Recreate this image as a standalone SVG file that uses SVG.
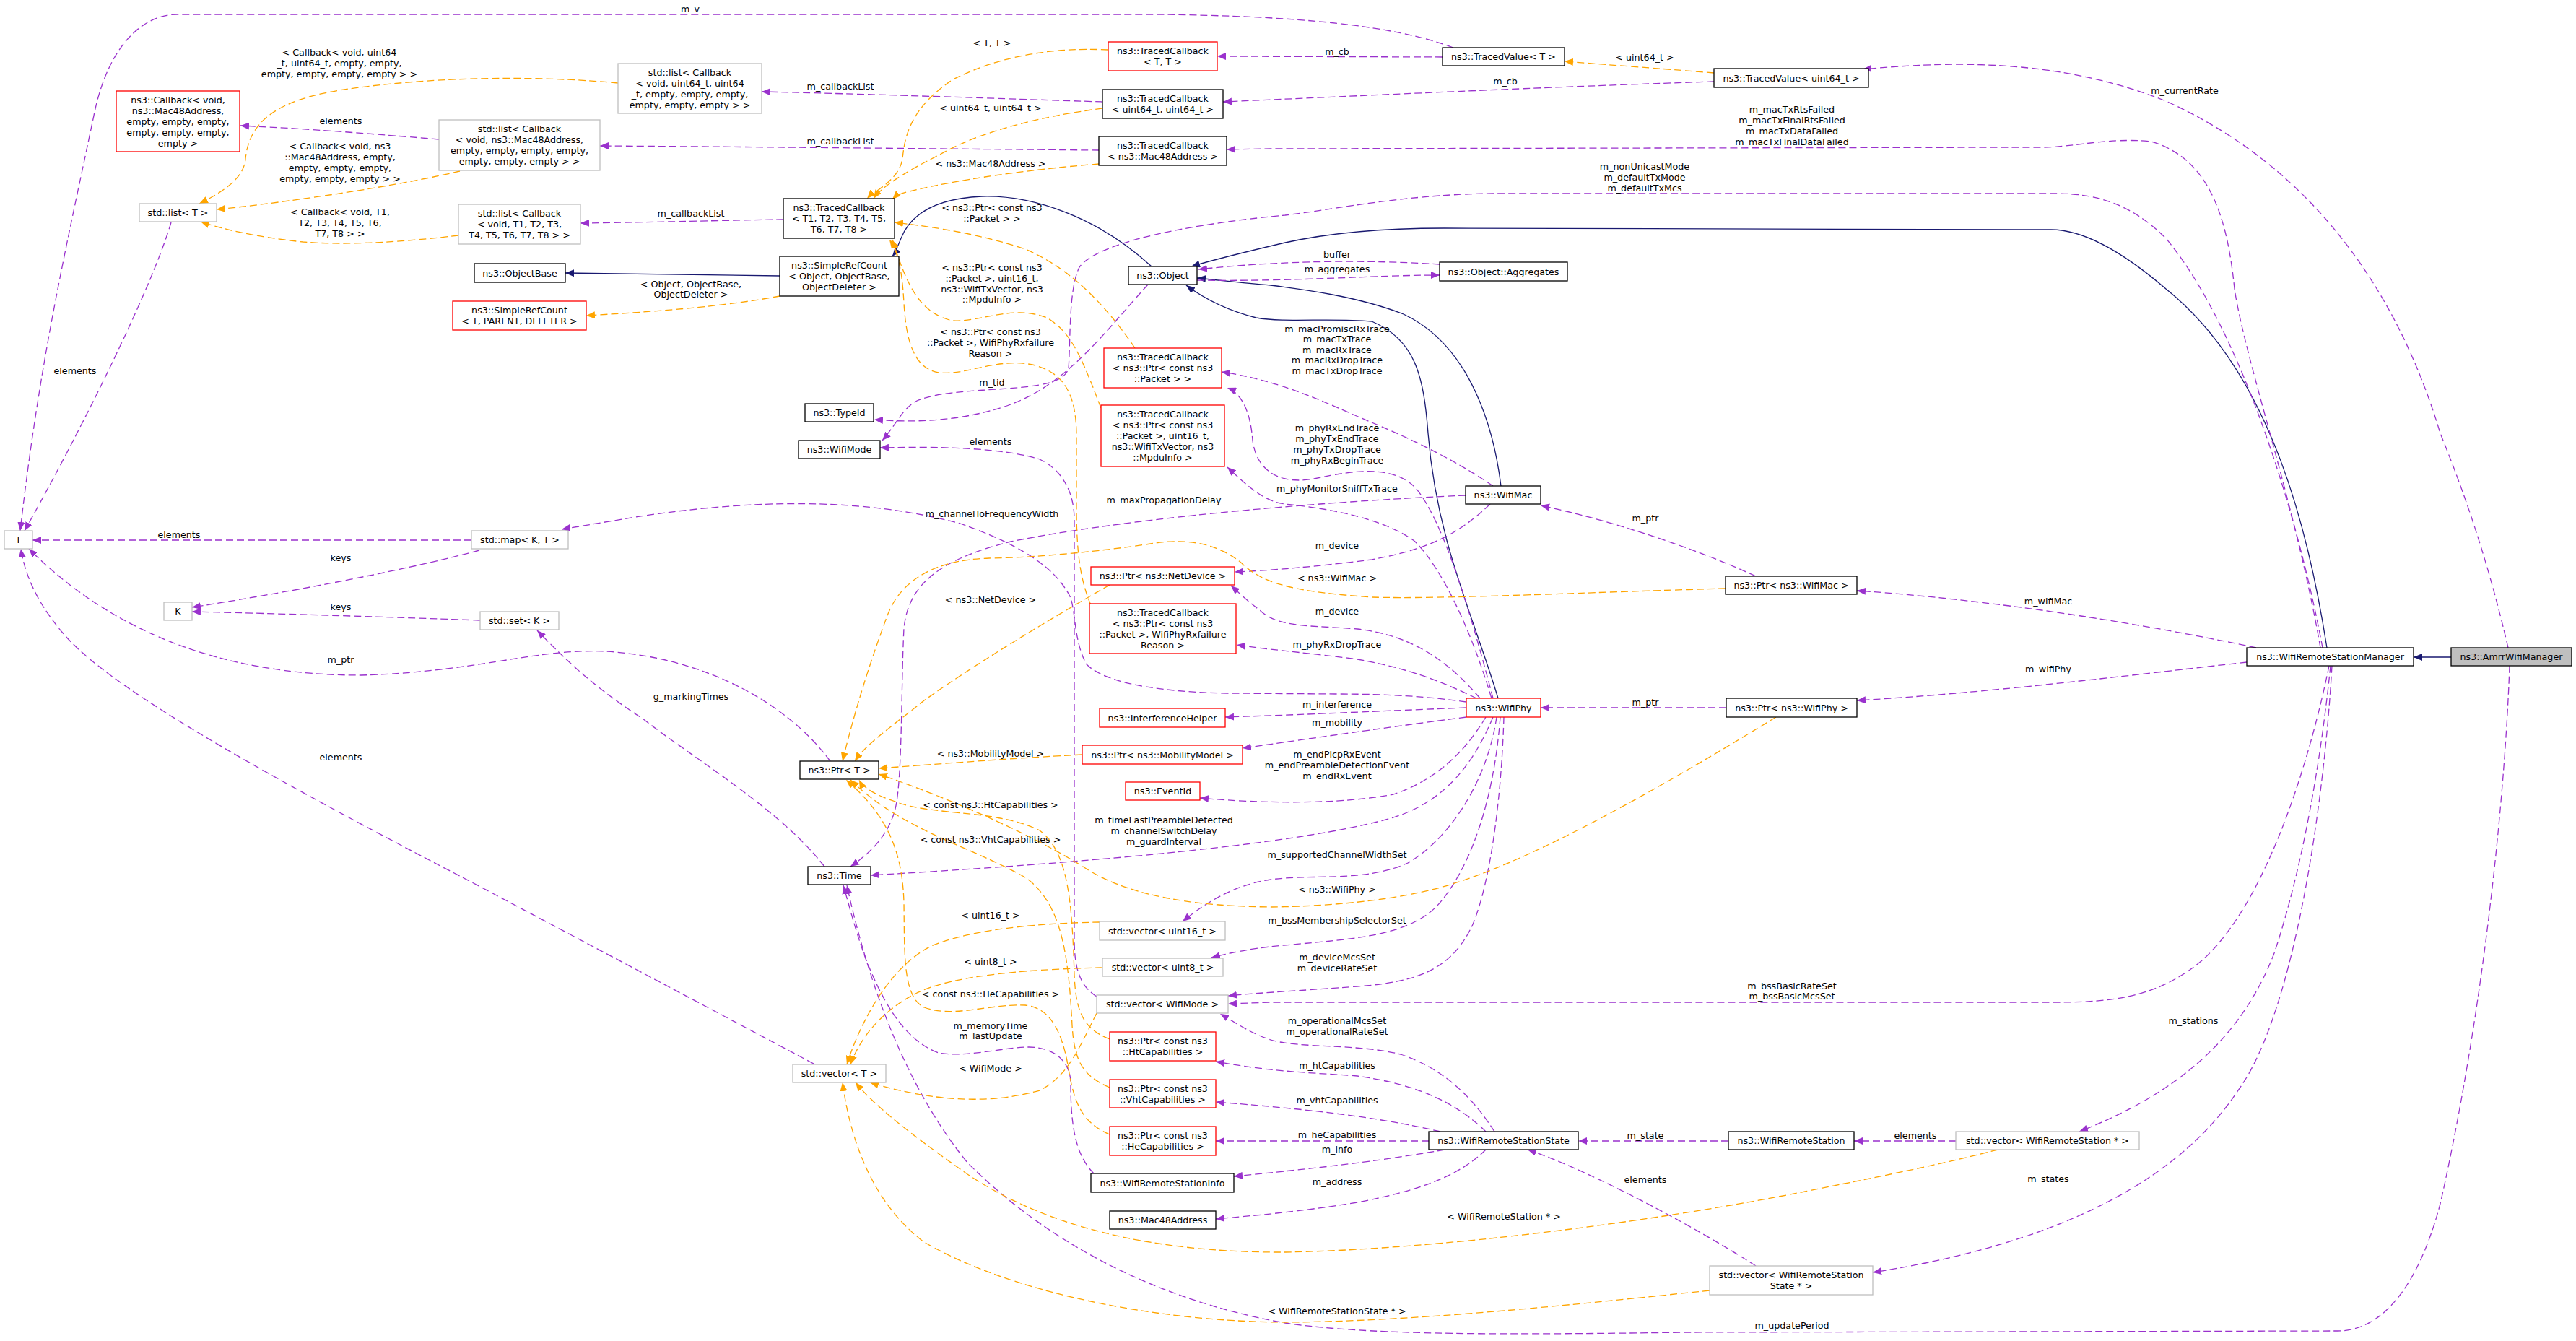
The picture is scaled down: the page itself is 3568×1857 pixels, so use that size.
<svg xmlns="http://www.w3.org/2000/svg" width="3568" height="1857" viewBox="0 0 3568 1857">
<style>
rect{stroke-width:1.3}
.nb{fill:#fff;stroke:#000}
.ng{fill:#fff;stroke:#bfbfbf}
.nr{fill:#fff;stroke:#ff0000}
.nm{fill:#bfbfbf;stroke:#000}
text{font-family:'DejaVu Sans',sans-serif;font-size:12.7px;text-anchor:middle;fill:#000}
.p{fill:none;stroke:#9a32cd;stroke-width:1.3;stroke-dasharray:10,5;marker-end:url(#ap)}
.o{fill:none;stroke:#ffa500;stroke-width:1.3;stroke-dasharray:10,5;marker-end:url(#ao)}
.b{fill:none;stroke:#191970;stroke-width:1.3;marker-end:url(#ab)}
</style>
<defs>
<marker id="ap" viewBox="0 0 12 10" refX="12" refY="5" markerWidth="12" markerHeight="10" markerUnits="userSpaceOnUse" orient="auto"><path d="M0,0L12,5L0,10z" fill="#9a32cd"/></marker>
<marker id="ao" viewBox="0 0 12 10" refX="12" refY="5" markerWidth="12" markerHeight="10" markerUnits="userSpaceOnUse" orient="auto"><path d="M0,0L12,5L0,10z" fill="#ffa500"/></marker>
<marker id="ab" viewBox="0 0 12 10" refX="12" refY="5" markerWidth="12" markerHeight="10" markerUnits="userSpaceOnUse" orient="auto"><path d="M0,0L12,5L0,10z" fill="#191970"/></marker>
</defs>
<rect width="3568" height="1857" fill="#fff" style="stroke:none"/>
<g id="connectors">
<path class="b" d="M3395,910L3343,910"/>
<path class="b" d="M3223,897C3200,750 3150,520 3000,400C2930,340 2880,318 2841,318L2000,316C1900,316 1830,325 1780,336C1720,350 1680,360 1650,369"/>
<path class="b" d="M2079,673C2070,600 2040,480 1944,435C1880,410 1800,400 1760,395C1720,392 1690,388 1658,385"/>
<path class="b" d="M2075,967C2040,850 1990,750 1978,600C1972,520 1960,470 1900,445C1840,440 1780,447 1740,440C1700,430 1670,415 1643,395"/>
<path class="b" d="M1595,369C1520,300 1430,270 1360,272C1290,275 1260,300 1248,330C1242,345 1240,350 1236,355"/>
<path class="b" d="M1080,382L783,378"/>
<path class="p" d="M2013,66C1930,35 1800,22 1600,20L245,20C200,20 150,60 130,160C90,350 55,500 28,735"/>
<text x="956" y="16.5">m_v</text>
<path class="p" d="M2374,113C2150,120 1900,132 1694,141"/>
<text x="2085" y="116.5">m_cb</text>
<path class="p" d="M1998,79L1686,78"/>
<text x="1852" y="75.5">m_cb</text>
<path class="p" d="M1527,141C1400,137 1200,130 1055,127"/>
<text x="1164" y="123.5">m_callbackList</text>
<path class="p" d="M1522,208C1300,206 1000,203 831,202"/>
<text x="1164" y="199.5">m_callbackList</text>
<path class="p" d="M1085,304C1000,305 900,308 804,309"/>
<text x="957" y="299.5">m_callbackList</text>
<path class="p" d="M608,193C500,184 420,178 333,174"/>
<text x="472" y="171.5">elements</text>
<path class="p" d="M237,308C210,400 110,600 34,735"/>
<text x="104" y="517.5">elements</text>
<path class="p" d="M653,748L45,748"/>
<text x="248" y="744.5">elements</text>
<path class="p" d="M664,762C560,790 400,820 266,841"/>
<text x="472" y="776.5">keys</text>
<path class="p" d="M665,859C550,855 400,850 266,847"/>
<text x="472" y="844.5">keys</text>
<path class="p" d="M1150,1054C1080,960 960,915 870,905C760,890 680,930 500,935C300,935 150,870 40,760"/>
<text x="472" y="917.5">m_ptr</text>
<path class="p" d="M1127,1473L654,1222C400,1090 160,960 90,880C55,840 35,800 29,760"/>
<text x="472" y="1052.5">elements</text>
<path class="p" d="M1142,1200C1080,1120 960,1050 890,995C820,950 780,910 744,873"/>
<text x="957" y="968.5">g_markingTimes</text>
<path class="p" d="M1658,388C1800,390 1900,381 1994,381"/>
<text x="1852" y="376.5">m_aggregates</text>
<path class="p" d="M1994,366C1900,360 1780,360 1660,373"/>
<text x="1852" y="356.5">buffer</text>
<path class="p" d="M1590,394C1530,460 1480,530 1400,560C1330,585 1260,585 1211,581"/>
<text x="1374" y="533.5">m_tid</text>
<path class="p" d="M3217,897C3180,700 3100,450 3000,330C2950,280 2900,268 2847,268L2076,268C1950,268 1850,290 1780,298C1650,310 1520,335 1495,370C1480,400 1483,470 1480,510C1470,550 1330,530 1270,555C1250,565 1240,590 1222,610"/>
<text x="2278" y="234.5">m_nonUnicastMode</text>
<text x="2278" y="249.5">m_defaultTxMode</text>
<text x="2278" y="264.5">m_defaultTxMcs</text>
<path class="p" d="M3214,897C3180,700 3110,500 3095,400C3085,300 3060,220 2980,196C2920,190 2870,204 2830,204L1760,206L1699,207"/>
<text x="2482" y="155.5">m_macTxRtsFailed</text>
<text x="2482" y="170.5">m_macTxFinalRtsFailed</text>
<text x="2482" y="185.5">m_macTxDataFailed</text>
<text x="2482" y="200.5">m_macTxFinalDataFailed</text>
<path class="p" d="M3474,897C3440,750 3400,650 3380,600C3320,400 3200,230 3000,140C2850,80 2700,85 2580,96"/>
<text x="3026" y="129.5">m_currentRate</text>
<path class="p" d="M2068,673C2020,640 1960,610 1900,585C1840,560 1780,528 1692,515"/>
<text x="1852" y="459.5">m_macPromiscRxTrace</text>
<text x="1852" y="474">m_macTxTrace</text>
<text x="1852" y="488.5">m_macRxTrace</text>
<text x="1852" y="503">m_macRxDropTrace</text>
<text x="1852" y="517.5">m_macTxDropTrace</text>
<path class="p" d="M2068,967C2040,860 2000,720 1960,675C1930,645 1880,650 1820,663C1770,672 1740,650 1735,610C1732,570 1720,545 1700,537"/>
<text x="1852" y="596.5">m_phyRxEndTrace</text>
<text x="1852" y="611.5">m_phyTxEndTrace</text>
<text x="1852" y="626.5">m_phyTxDropTrace</text>
<text x="1852" y="641.5">m_phyRxBeginTrace</text>
<path class="p" d="M2066,967C2040,880 2000,790 1960,750C1920,720 1850,705 1780,698C1750,695 1725,670 1700,647"/>
<text x="1852" y="680.5">m_phyMonitorSniffTxTrace</text>
<path class="p" d="M2030,686C1800,696 1550,720 1400,750C1300,775 1258,810 1252,870C1248,950 1250,1080 1240,1120C1230,1160 1200,1185 1178,1200"/>
<text x="1612" y="696.5">m_maxPropagationDelay</text>
<path class="p" d="M2064,698C2020,740 1980,760 1900,775C1820,785 1760,790 1710,792"/>
<text x="1852" y="759.5">m_device</text>
<path class="p" d="M2050,967C2010,920 1960,880 1880,871C1820,866 1770,870 1745,845C1725,830 1715,820 1705,811"/>
<text x="1852" y="850.5">m_device</text>
<path class="p" d="M2045,967C2000,945 1950,925 1880,913C1820,905 1760,900 1713,893"/>
<text x="1852" y="896.5">m_phyRxDropTrace</text>
<path class="p" d="M2031,972C1980,965 1930,961 1850,961L1700,960C1600,958 1530,945 1505,920C1488,890 1490,850 1483,828C1460,780 1400,750 1330,725C1200,690 1050,690 880,716L778,733"/>
<text x="1374" y="715.5">m_channelToFrequencyWidth</text>
<path class="p" d="M2031,980C1900,985 1800,990 1697,993"/>
<text x="1852" y="979.5">m_interference</text>
<path class="p" d="M2031,993C1900,1010 1800,1025 1721,1036"/>
<text x="1852" y="1004.5">m_mobility</text>
<path class="p" d="M2058,993C2030,1040 1990,1080 1930,1100C1850,1115 1740,1112 1662,1105"/>
<text x="1852" y="1048.5">m_endPlcpRxEvent</text>
<text x="1852" y="1063.5">m_endPreambleDetectionEvent</text>
<text x="1852" y="1079">m_endRxEvent</text>
<path class="p" d="M2068,993C2040,1060 2000,1110 1930,1132C1800,1170 1500,1195 1206,1212"/>
<text x="1612" y="1139.5">m_timeLastPreambleDetected</text>
<text x="1612" y="1154.5">m_channelSwitchDelay</text>
<text x="1612" y="1169.5">m_guardInterval</text>
<path class="p" d="M2073,993C2060,1080 2010,1160 1950,1195C1890,1222 1820,1210 1760,1218C1710,1225 1670,1250 1638,1276"/>
<text x="1852" y="1187.5">m_supportedChannelWidthSet</text>
<path class="p" d="M2078,993C2070,1100 2040,1200 1990,1255C1950,1295 1880,1300 1790,1308C1740,1312 1710,1318 1678,1326"/>
<text x="1852" y="1278.5">m_bssMembershipSelectorSet</text>
<path class="p" d="M2083,993C2080,1100 2065,1220 2040,1280C2010,1345 1960,1360 1880,1366C1800,1372 1740,1375 1701,1379"/>
<text x="1852" y="1329.5">m_deviceMcsSet</text>
<text x="1852" y="1344.5">m_deviceRateSet</text>
<path class="p" d="M3226,922C3200,1050 3140,1250 3050,1330C2990,1380 2930,1388 2847,1388L1760,1388L1701,1390"/>
<text x="2482" y="1369.5">m_bssBasicRateSet</text>
<text x="2482" y="1383.5">m_bssBasicMcsSet</text>
<path class="p" d="M2070,1567C2040,1520 2000,1480 1940,1460C1880,1445 1800,1452 1760,1440C1730,1430 1710,1415 1690,1404"/>
<text x="1852" y="1417.5">m_operationalMcsSet</text>
<text x="1852" y="1432.5">m_operationalRateSet</text>
<path class="p" d="M2058,1567C2010,1520 1950,1500 1880,1490C1810,1485 1760,1484 1684,1470"/>
<text x="1852" y="1479.5">m_htCapabilities</text>
<path class="p" d="M1995,1567C1900,1545 1800,1535 1684,1526"/>
<text x="1852" y="1527.5">m_vhtCapabilities</text>
<path class="p" d="M1979,1580L1684,1580"/>
<text x="1852" y="1575.5">m_heCapabilities</text>
<path class="p" d="M2001,1592C1900,1610 1800,1620 1709,1629"/>
<text x="1852" y="1595.5">m_info</text>
<path class="p" d="M2058,1592C2020,1630 1960,1650 1880,1665C1800,1678 1740,1683 1684,1688"/>
<text x="1852" y="1640.5">m_address</text>
<path class="p" d="M2394,1580L2186,1580"/>
<text x="2279" y="1576.5">m_state</text>
<path class="p" d="M2709,1580L2568,1580"/>
<text x="2653" y="1576.5">elements</text>
<path class="p" d="M2432,1753C2350,1700 2200,1620 2116,1592"/>
<text x="2279" y="1637.5">elements</text>
<path class="p" d="M3228,922C3215,1050 3190,1200 3150,1320C3100,1450 3000,1520 2880,1567"/>
<text x="3038" y="1417.5">m_stations</text>
<path class="p" d="M3230,922C3220,1100 3180,1400 3100,1510C3000,1660 2800,1730 2594,1762"/>
<text x="2837" y="1636.5">m_states</text>
<path class="p" d="M3476,922C3470,1100 3440,1400 3380,1667C3350,1780 3300,1843 3238,1843L2340,1845C2100,1848 1900,1850 1780,1832C1600,1800 1450,1720 1340,1610C1250,1500 1200,1350 1173,1226"/>
<text x="2482" y="1839.5">m_updatePeriod</text>
<path class="p" d="M1515,1625C1490,1600 1483,1560 1483,1500C1483,1470 1460,1450 1425,1450C1390,1450 1340,1465 1300,1458C1250,1440 1220,1380 1200,1330C1185,1290 1178,1260 1168,1226"/>
<text x="1372" y="1424.5">m_memoryTime</text>
<text x="1372" y="1438.5">m_lastUpdate</text>
<path class="p" d="M1519,1380C1495,1365 1488,1340 1488,1300L1488,720C1488,680 1470,650 1440,636C1390,620 1300,618 1219,620"/>
<text x="1372" y="615.5">elements</text>
<path class="p" d="M3125,897C2950,860 2750,830 2572,818"/>
<text x="2837" y="836.5">m_wifiMac</text>
<path class="p" d="M3112,917C2950,935 2750,960 2572,970"/>
<text x="2837" y="930.5">m_wifiPhy</text>
<path class="p" d="M2432,798C2350,760 2230,720 2134,700"/>
<text x="2279" y="721.5">m_ptr</text>
<path class="p" d="M2391,980L2134,980"/>
<text x="2279" y="976.5">m_ptr</text>
<path class="o" d="M2374,101C2300,95 2230,90 2167,85"/>
<text x="2278" y="83.5">&lt; uint64_t &gt;</text>
<path class="o" d="M1535,69C1450,65 1380,80 1320,110C1260,150 1253,190 1250,220C1245,250 1210,265 1201,275"/>
<text x="1374" y="63.5">&lt; T, T &gt;</text>
<path class="o" d="M1527,150C1450,160 1360,180 1300,215C1250,240 1220,260 1210,275"/>
<text x="1372" y="153.5">&lt; uint64_t, uint64_t &gt;</text>
<path class="o" d="M1522,227C1420,235 1320,250 1260,265C1245,268 1240,272 1236,276"/>
<text x="1372" y="230.5">&lt; ns3::Mac48Address &gt;</text>
<path class="o" d="M1572,482C1530,420 1480,370 1420,345C1360,325 1300,315 1239,308"/>
<text x="1374" y="291.5">&lt; ns3::Ptr&lt; const ns3</text>
<text x="1374" y="306.5">::Packet &gt; &gt;</text>
<path class="o" d="M1525,565C1500,500 1485,460 1450,440C1400,420 1350,450 1315,443C1270,430 1255,390 1236,332"/>
<text x="1374" y="374.5">&lt; ns3::Ptr&lt; const ns3</text>
<text x="1374" y="389.5">::Packet &gt;, uint16_t,</text>
<text x="1374" y="404.5">ns3::WifiTxVector, ns3</text>
<text x="1374" y="418.5">::MpduInfo &gt;</text>
<path class="o" d="M1511,838C1495,800 1491,760 1491,700L1491,600C1490,540 1470,515 1430,505C1380,495 1340,520 1300,516C1265,510 1255,470 1252,420C1250,380 1245,350 1232,332"/>
<text x="1372" y="463.5">&lt; ns3::Ptr&lt; const ns3</text>
<text x="1372" y="478.5">::Packet &gt;, WifiPhyRxfailure</text>
<text x="1372" y="493.5">Reason &gt;</text>
<path class="o" d="M1080,410C1000,425 900,432 812,437"/>
<text x="957" y="397.5">&lt; Object, ObjectBase,</text>
<text x="957" y="411.5">ObjectDeleter &gt;</text>
<path class="o" d="M1537,810C1450,860 1350,920 1280,970C1230,1010 1200,1030 1184,1054"/>
<text x="1372" y="834.5">&lt; ns3::NetDevice &gt;</text>
<path class="o" d="M2390,815C2200,820 2000,830 1900,827C1800,820 1750,810 1720,780C1690,755 1650,745 1600,752C1550,760 1450,772 1370,773C1300,775 1250,800 1230,850C1200,930 1180,1000 1167,1054"/>
<text x="1852" y="804.5">&lt; ns3::WifiMac &gt;</text>
<path class="o" d="M1499,1045C1400,1050 1300,1058 1217,1064"/>
<text x="1372" y="1047.5">&lt; ns3::MobilityModel &gt;</text>
<path class="o" d="M2460,993C2350,1060 2150,1180 2018,1222C1950,1245 1850,1255 1760,1256C1650,1255 1560,1240 1500,1200C1420,1150 1300,1100 1217,1072"/>
<text x="1852" y="1235.5">&lt; ns3::WifiPhy &gt;</text>
<path class="o" d="M1537,1439C1500,1425 1490,1400 1488,1350C1485,1250 1480,1180 1440,1150C1380,1120 1290,1130 1240,1110C1210,1100 1195,1090 1190,1080"/>
<text x="1372" y="1118.5">&lt; const ns3::HtCapabilities &gt;</text>
<path class="o" d="M1537,1506C1500,1490 1488,1470 1485,1420C1480,1320 1470,1250 1420,1215C1340,1170 1250,1150 1178,1080"/>
<text x="1372" y="1166.5">&lt; const ns3::VhtCapabilities &gt;</text>
<path class="o" d="M1537,1571C1500,1555 1488,1530 1480,1480C1470,1420 1450,1395 1420,1392C1370,1390 1320,1410 1280,1395C1250,1380 1253,1320 1252,1250C1250,1180 1230,1130 1172,1080"/>
<text x="1372" y="1380.5">&lt; const ns3::HeCapabilities &gt;</text>
<path class="o" d="M1523,1277C1450,1278 1350,1285 1290,1310C1230,1340 1190,1420 1173,1474"/>
<text x="1372" y="1271.5">&lt; uint16_t &gt;</text>
<path class="o" d="M1527,1340C1430,1342 1320,1350 1270,1375C1220,1400 1190,1440 1178,1474"/>
<text x="1372" y="1335.5">&lt; uint8_t &gt;</text>
<path class="o" d="M1519,1403C1495,1450 1480,1490 1440,1510C1370,1530 1290,1525 1205,1499"/>
<text x="1372" y="1483.5">&lt; WifiMode &gt;</text>
<path class="o" d="M2767,1592C2700,1610 2600,1630 2500,1650C2300,1690 2000,1730 1780,1734C1600,1735 1450,1700 1340,1626C1260,1570 1210,1530 1185,1499"/>
<text x="2083" y="1688.5">&lt; WifiRemoteStation * &gt;</text>
<path class="o" d="M2368,1787C2150,1810 1950,1830 1780,1831C1600,1830 1400,1790 1280,1720C1200,1660 1175,1560 1167,1499"/>
<text x="1852" y="1819.5">&lt; WifiRemoteStationState * &gt;</text>
<path class="o" d="M856,115C750,105 600,105 470,125C380,140 345,170 340,220C338,250 300,270 276,282"/>
<text x="470" y="76.5">&lt; Callback&lt; void, uint64</text>
<text x="470" y="91.5">_t, uint64_t, empty, empty,</text>
<text x="470" y="107">empty, empty, empty, empty &gt; &gt;</text>
<path class="o" d="M637,237C560,255 460,270 400,278C350,285 320,288 300,290"/>
<text x="471" y="206.5">&lt; Callback&lt; void, ns3</text>
<text x="471" y="221.5">::Mac48Address, empty,</text>
<text x="471" y="236.5">empty, empty, empty,</text>
<text x="471" y="251.5">empty, empty, empty &gt; &gt;</text>
<path class="o" d="M635,326C560,335 480,340 420,335C350,328 300,315 278,307"/>
<text x="471" y="297.5">&lt; Callback&lt; void, T1,</text>
<text x="471" y="312.5">T2, T3, T4, T5, T6,</text>
<text x="471" y="327.5">T7, T8 &gt; &gt;</text>
</g>
<g id="n_amrr"><rect class="nm" x="3395" y="897" width="167" height="25"/><text x="3478.5" y="914">ns3::AmrrWifiManager</text></g>
<g id="n_wrsm"><rect class="nb" x="3112" y="897" width="231" height="25"/><text x="3227.5" y="914">ns3::WifiRemoteStationManager</text></g>
<g id="n_object"><rect class="nb" x="1563" y="369" width="95" height="25"/><text x="1610.5" y="386">ns3::Object</text></g>
<g id="n_srcObj"><rect class="nb" x="1080" y="355" width="165" height="55"/><text x="1162.5" y="372">ns3::SimpleRefCount</text><text x="1162.5" y="387">&lt; Object, ObjectBase,</text><text x="1162.5" y="402">ObjectDeleter &gt;</text></g>
<g id="n_objbase"><rect class="nb" x="657" y="365" width="126" height="26"/><text x="720" y="382.5">ns3::ObjectBase</text></g>
<g id="n_srcT"><rect class="nr" x="627" y="417" width="185" height="40"/><text x="719.5" y="434">ns3::SimpleRefCount</text><text x="719.5" y="449">&lt; T, PARENT, DELETER &gt;</text></g>
<g id="n_tcT"><rect class="nb" x="1085" y="275" width="154" height="55"/><text x="1162" y="292">ns3::TracedCallback</text><text x="1162" y="307">&lt; T1, T2, T3, T4, T5,</text><text x="1162" y="322">T6, T7, T8 &gt;</text></g>
<g id="n_tcTT"><rect class="nr" x="1535" y="58" width="151" height="40"/><text x="1610.5" y="75">ns3::TracedCallback</text><text x="1610.5" y="90">&lt; T, T &gt;</text></g>
<g id="n_tcU64"><rect class="nb" x="1527" y="124" width="167" height="40"/><text x="1610.5" y="141">ns3::TracedCallback</text><text x="1610.5" y="156">&lt; uint64_t, uint64_t &gt;</text></g>
<g id="n_tcMac"><rect class="nb" x="1522" y="189" width="177" height="40"/><text x="1610.5" y="206">ns3::TracedCallback</text><text x="1610.5" y="221">&lt; ns3::Mac48Address &gt;</text></g>
<g id="n_tvT"><rect class="nb" x="1998" y="66" width="169" height="25"/><text x="2082.5" y="83">ns3::TracedValue&lt; T &gt;</text></g>
<g id="n_tvU64"><rect class="nb" x="2374" y="95" width="214" height="26"/><text x="2481" y="112.5">ns3::TracedValue&lt; uint64_t &gt;</text></g>
<g id="n_listU64"><rect class="ng" x="856" y="88" width="199" height="69"/><text x="955.5" y="104.5">std::list&lt; Callback</text><text x="955.5" y="119.5">&lt; void, uint64_t, uint64</text><text x="955.5" y="134.5">_t, empty, empty, empty,</text><text x="955.5" y="149.5">empty, empty, empty &gt; &gt;</text></g>
<g id="n_listMac"><rect class="ng" x="608" y="166" width="223" height="70"/><text x="719.5" y="183">std::list&lt; Callback</text><text x="719.5" y="198">&lt; void, ns3::Mac48Address,</text><text x="719.5" y="213">empty, empty, empty, empty,</text><text x="719.5" y="228">empty, empty, empty &gt; &gt;</text></g>
<g id="n_listT8"><rect class="ng" x="635" y="283" width="169" height="55"/><text x="719.5" y="300">std::list&lt; Callback</text><text x="719.5" y="315">&lt; void, T1, T2, T3,</text><text x="719.5" y="330">T4, T5, T6, T7, T8 &gt; &gt;</text></g>
<g id="n_callback"><rect class="nr" x="161" y="126" width="171" height="84"/><text x="246.5" y="142.5">ns3::Callback&lt; void,</text><text x="246.5" y="157.5">ns3::Mac48Address,</text><text x="246.5" y="172.5">empty, empty, empty,</text><text x="246.5" y="187.5">empty, empty, empty,</text><text x="246.5" y="202.5">empty &gt;</text></g>
<g id="n_listT"><rect class="ng" x="193" y="282" width="107" height="25"/><text x="246.5" y="299">std::list&lt; T &gt;</text></g>
<g id="n_T"><rect class="ng" x="6" y="735" width="39" height="25"/><text x="25.5" y="752">T</text></g>
<g id="n_map"><rect class="ng" x="653" y="735" width="134" height="25"/><text x="720" y="752">std::map&lt; K, T &gt;</text></g>
<g id="n_K"><rect class="ng" x="227" y="834" width="39" height="25"/><text x="246.5" y="851">K</text></g>
<g id="n_set"><rect class="ng" x="665" y="847" width="109" height="25"/><text x="719.5" y="864">std::set&lt; K &gt;</text></g>
<g id="n_agg"><rect class="nb" x="1994" y="363" width="177" height="26"/><text x="2082.5" y="380.5">ns3::Object::Aggregates</text></g>
<g id="n_tcPkt"><rect class="nr" x="1529" y="482" width="163" height="55"/><text x="1610.5" y="499">ns3::TracedCallback</text><text x="1610.5" y="514">&lt; ns3::Ptr&lt; const ns3</text><text x="1610.5" y="529">::Packet &gt; &gt;</text></g>
<g id="n_tcMpdu"><rect class="nr" x="1525" y="561" width="171" height="85"/><text x="1610.5" y="578">ns3::TracedCallback</text><text x="1610.5" y="593">&lt; ns3::Ptr&lt; const ns3</text><text x="1610.5" y="608">::Packet &gt;, uint16_t,</text><text x="1610.5" y="623">ns3::WifiTxVector, ns3</text><text x="1610.5" y="638">::MpduInfo &gt;</text></g>
<g id="n_typeid"><rect class="nb" x="1115" y="559" width="95" height="25"/><text x="1162.5" y="576">ns3::TypeId</text></g>
<g id="n_wifimode"><rect class="nb" x="1106" y="610" width="113" height="25"/><text x="1162.5" y="627">ns3::WifiMode</text></g>
<g id="n_wifimac"><rect class="nb" x="2030" y="673" width="104" height="25"/><text x="2082" y="690">ns3::WifiMac</text></g>
<g id="n_ptrNetDev"><rect class="nr" x="1511" y="785" width="199" height="25"/><text x="1610.5" y="802">ns3::Ptr&lt; ns3::NetDevice &gt;</text></g>
<g id="n_tcRxFail"><rect class="nr" x="1509" y="836" width="203" height="69"/><text x="1610.5" y="852.5">ns3::TracedCallback</text><text x="1610.5" y="867.5">&lt; ns3::Ptr&lt; const ns3</text><text x="1610.5" y="882.5">::Packet &gt;, WifiPhyRxfailure</text><text x="1610.5" y="897.5">Reason &gt;</text></g>
<g id="n_ptrWifiMac"><rect class="nb" x="2390" y="798" width="182" height="25"/><text x="2481" y="815">ns3::Ptr&lt; ns3::WifiMac &gt;</text></g>
<g id="n_wifiphy"><rect class="nr" x="2031" y="967" width="103" height="26"/><text x="2082.5" y="984.5">ns3::WifiPhy</text></g>
<g id="n_ptrWifiPhy"><rect class="nb" x="2391" y="967" width="181" height="26"/><text x="2481.5" y="984.5">ns3::Ptr&lt; ns3::WifiPhy &gt;</text></g>
<g id="n_interf"><rect class="nr" x="1523" y="981" width="174" height="26"/><text x="1610" y="998.5">ns3::InterferenceHelper</text></g>
<g id="n_ptrMob"><rect class="nr" x="1499" y="1032" width="222" height="26"/><text x="1610" y="1049.5">ns3::Ptr&lt; ns3::MobilityModel &gt;</text></g>
<g id="n_ptrT"><rect class="nb" x="1108" y="1054" width="109" height="25"/><text x="1162.5" y="1071">ns3::Ptr&lt; T &gt;</text></g>
<g id="n_eventid"><rect class="nr" x="1559" y="1083" width="103" height="25"/><text x="1610.5" y="1100">ns3::EventId</text></g>
<g id="n_time"><rect class="nb" x="1119" y="1200" width="87" height="25"/><text x="1162.5" y="1217">ns3::Time</text></g>
<g id="n_vecU16"><rect class="ng" x="1523" y="1276" width="174" height="26"/><text x="1610" y="1293.5">std::vector&lt; uint16_t &gt;</text></g>
<g id="n_vecU8"><rect class="ng" x="1527" y="1327" width="167" height="25"/><text x="1610.5" y="1344">std::vector&lt; uint8_t &gt;</text></g>
<g id="n_vecWM"><rect class="ng" x="1519" y="1378" width="182" height="25"/><text x="1610" y="1395">std::vector&lt; WifiMode &gt;</text></g>
<g id="n_ptrHt"><rect class="nr" x="1537" y="1429" width="147" height="40"/><text x="1610.5" y="1446">ns3::Ptr&lt; const ns3</text><text x="1610.5" y="1461">::HtCapabilities &gt;</text></g>
<g id="n_vecT"><rect class="ng" x="1098" y="1474" width="129" height="25"/><text x="1162.5" y="1491">std::vector&lt; T &gt;</text></g>
<g id="n_ptrVht"><rect class="nr" x="1537" y="1495" width="147" height="39"/><text x="1610.5" y="1511.5">ns3::Ptr&lt; const ns3</text><text x="1610.5" y="1526.5">::VhtCapabilities &gt;</text></g>
<g id="n_ptrHe"><rect class="nr" x="1537" y="1560" width="147" height="40"/><text x="1610.5" y="1577">ns3::Ptr&lt; const ns3</text><text x="1610.5" y="1592">::HeCapabilities &gt;</text></g>
<g id="n_wrsInfo"><rect class="nb" x="1511" y="1625" width="198" height="26"/><text x="1610" y="1642.5">ns3::WifiRemoteStationInfo</text></g>
<g id="n_mac48"><rect class="nb" x="1537" y="1677" width="147" height="25"/><text x="1610.5" y="1694">ns3::Mac48Address</text></g>
<g id="n_wrsState"><rect class="nb" x="1979" y="1567" width="207" height="25"/><text x="2082.5" y="1584">ns3::WifiRemoteStationState</text></g>
<g id="n_wrs"><rect class="nb" x="2394" y="1567" width="174" height="25"/><text x="2481" y="1584">ns3::WifiRemoteStation</text></g>
<g id="n_vecWRS"><rect class="ng" x="2709" y="1567" width="254" height="25"/><text x="2836" y="1584">std::vector&lt; WifiRemoteStation * &gt;</text></g>
<g id="n_vecWRSS"><rect class="ng" x="2368" y="1753" width="226" height="40"/><text x="2481" y="1770">std::vector&lt; WifiRemoteStation</text><text x="2481" y="1785">State * &gt;</text></g>
</svg>
